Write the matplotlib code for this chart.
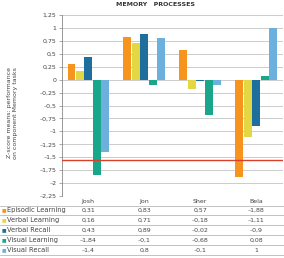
import matplotlib
matplotlib.use("Agg")
import matplotlib.pyplot as plt
from matplotlib.transforms import blended_transform_factory

people = ["Josh", "Jon", "Sher", "Bela"]
series = ["Episodic Learning", "Verbal Learning", "Verbal Recall", "Visual Learning", "Visual Recall"]
episodic_learning = [0.31, 0.83, 0.57, -1.88]
verbal_learning = [0.16, 0.71, -0.18, -1.11]
verbal_recall = [0.43, 0.89, -0.02, -0.9]
visual_learning = [-1.84, -0.1, -0.68, 0.08]
visual_recall = [-1.4, 0.8, -0.1, 1]
values = [episodic_learning, verbal_learning, verbal_recall, visual_learning, visual_recall]
colors = ["#f7941d", "#e3d843", "#1f6f9e", "#1aa68b", "#6cb0de"]
cutoff = -1.55
yticks = [1.25, 1, 0.75, 0.5, 0.25, 0, -0.25, -0.5, -0.75, -1, -1.25, -1.5, -1.75, -2, -2.25]


def fmt(v):
    s = ("%g" % abs(v)).replace(".", ",")
    return ("\u2013" + s) if v < 0 else s


W, H = 284, 258
fig = plt.figure(figsize=(W / 100, H / 100), dpi=100)
ax = fig.add_axes([62 / W, 1 - 196 / H, 221 / W, 181 / H])

w = 0.15
for i, (vals, c) in enumerate(zip(values, colors)):
    xs = [k + (i - 2) * w for k in range(len(people))]
    ax.bar(xs, vals, width=w * 0.95, color=c, zorder=3)

ax.axhline(cutoff, color="#d9402a", lw=1, zorder=4)
ax.set_ylim(-2.25, 1.25)
ax.set_xlim(-0.47, 3.48)
ax.set_yticks(yticks)
ax.set_yticklabels([fmt(t) for t in yticks], fontsize=4.5, color="#444444")
ax.yaxis.grid(True, color="#c4c4c4", lw=0.6, zorder=0)
ax.set_xticks(range(len(people)))
ax.set_xticklabels(people, fontsize=4.5, color="#444444")
ax.tick_params(axis="x", length=0, pad=2)
ax.tick_params(axis="y", length=2, width=0.5, color="#888888", pad=2)
for s in ["top", "right", "bottom"]:
    ax.spines[s].set_visible(False)
ax.spines["left"].set_color("#888888")
ax.spines["left"].set_linewidth(0.6)

ax.set_ylabel("Z-score means: performance\non component Memory tasks", fontsize=4.5,
              color="#444444", linespacing=1.3)
ax.yaxis.set_label_coords(-0.2, 0.46)
fig.text(155 / W, 1 - 5 / H, "MEMORY   PROCESSES", fontsize=4.5, weight="bold",
         color="#333333", ha="center", va="center")

# table under the plot
tr = blended_transform_factory(ax.transData, fig.transFigure)
row_y = [210, 220, 230, 240, 250]
for y in [205.5, 215, 225, 235, 245, 255]:
    fig.add_artist(plt.Line2D([0, 1], [1 - y / H, 1 - y / H], color="#aaaaaa", lw=0.5))
for r, (name, vals, c) in enumerate(zip(series, values, colors)):
    yf = 1 - row_y[r] / H
    fig.text(1.5 / W, yf, "\u25a0", color=c, fontsize=3.5, va="center")
    fig.text(7 / W, yf, name, fontsize=4.8, color="#444444", va="center")
    for k, v in enumerate(vals):
        ax.text(k, yf, fmt(v), transform=tr, fontsize=4.5, color="#444444",
                ha="center", va="center", clip_on=False)

fig.savefig("out.png", dpi=100)
